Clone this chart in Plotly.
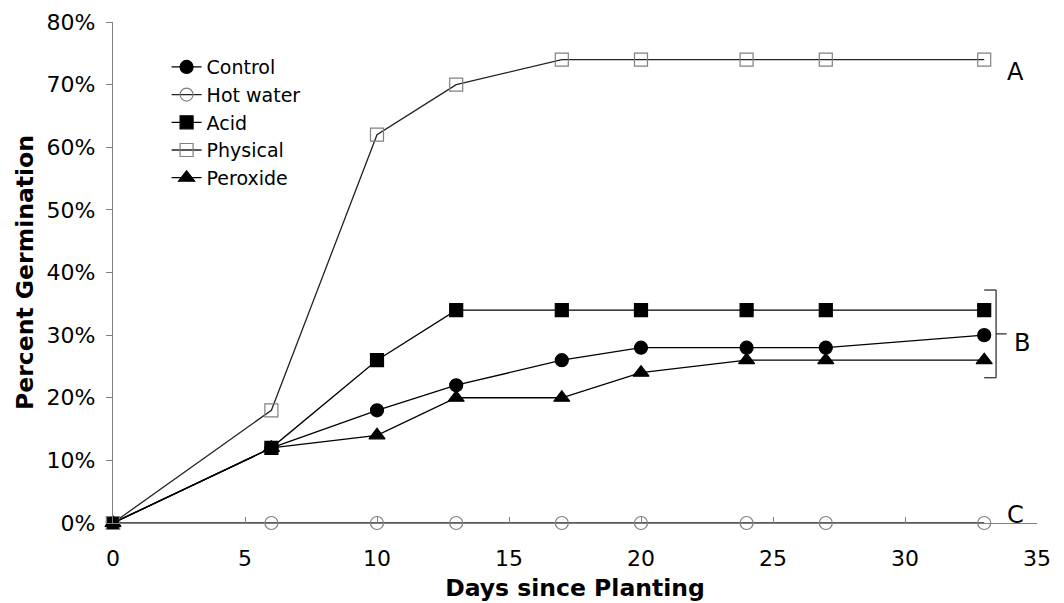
import plotly.graph_objects as go

days = [0, 6, 10, 13, 17, 20, 24, 27, 33]
control = [0, 12, 18, 22, 26, 28, 28, 28, 30]
hot_water = [0, 0, 0, 0, 0, 0, 0, 0, 0]
acid = [0, 12, 26, 34, 34, 34, 34, 34, 34]
physical = [0, 18, 62, 70, 74, 74, 74, 74, 74]
peroxide = [0, 12, 14, 20, 20, 24, 26, 26, 26]

x_ticks = [0, 5, 10, 15, 20, 25, 30, 35]
y_ticks = [0, 10, 20, 30, 40, 50, 60, 70, 80]
y_tick_labels = [f"{v}%" for v in y_ticks]

FONT = "DejaVu Sans"

series = [
    ("Control", control, "circle", "black", "black", 13),
    ("Hot water", hot_water, "circle-open", "#222222", "#808080", 13),
    ("Acid", acid, "square", "black", "black", 13),
    ("Physical", physical, "square-open", "#222222", "#808080", 13),
    ("Peroxide", peroxide, "triangle-up", "black", "black", 14),
]

fig = go.Figure()
for name, vals, sym, lc, mc, size in series:
    fig.add_trace(go.Scatter(
        x=days, y=vals, name=name, mode="lines+markers",
        line=dict(color=lc, width=1.3),
        marker=dict(symbol=sym, size=size, color=mc,
                    line=dict(color=mc, width=1.2)),
        cliponaxis=False,
    ))

# Bracket for group B
last = days[-1]
b_top = acid[-1] + 3.2
b_bot = peroxide[-1] - 2.8
bx = last + 0.45
shape_line = dict(color="#333333", width=1.3)
fig.add_shape(type="line", x0=bx, x1=bx, y0=b_bot, y1=b_top, line=shape_line)
fig.add_shape(type="line", x0=last, x1=bx, y0=b_top, y1=b_top, line=shape_line)
fig.add_shape(type="line", x0=last, x1=bx, y0=b_bot, y1=b_bot, line=shape_line)
fig.add_shape(type="line", x0=bx, x1=bx + 0.4, y0=(b_top + b_bot) / 2, y1=(b_top + b_bot) / 2, line=shape_line)

for txt, xv, yv in [("A", last + 1.2, physical[-1] - 2), ("B", bx + 1.0, (b_top + b_bot) / 2 - 1.5), ("C", last + 1.2, hot_water[-1] + 1.3)]:
    fig.add_annotation(x=xv, y=yv, text=txt, showarrow=False,
                       font=dict(family=FONT, size=24, color="black"),
                       xanchor="center", yanchor="middle")

# The page body has an 8px default margin; margins compensate for it.
fig.update_layout(
    width=1064, height=603,
    margin=dict(l=105, r=35, t=14, b=88),
    paper_bgcolor="white", plot_bgcolor="white",
    font=dict(family=FONT, size=22, color="black"),
    showlegend=True,
    legend=dict(x=0.058, y=0.948, xanchor="left", yanchor="top",
                bgcolor="rgba(0,0,0,0)", font=dict(family=FONT, size=19),
                itemwidth=30, tracegroupgap=0),
    xaxis=dict(range=[0, 35], tickvals=x_ticks, ticks="inside", ticklen=6,
               tickcolor="#808080", showline=True, linecolor="#808080", linewidth=1.2,
               showgrid=False, zeroline=False, automargin=False, ticklabelstandoff=15,
               title=dict(text="<b>Days since Planting</b>", font=dict(family=FONT, size=23.5), standoff=10),
               tickfont=dict(family=FONT, size=22)),
    yaxis=dict(range=[0, 80], tickvals=y_ticks, ticktext=y_tick_labels, ticks="outside", ticklen=6,
               tickcolor="#808080", showline=True, linecolor="#808080", linewidth=1.2,
               showgrid=False, zeroline=False, automargin=False, ticklabelstandoff=6,
               title=dict(text="<b>Percent Germination</b>", font=dict(family=FONT, size=23.5), standoff=6),
               tickfont=dict(family=FONT, size=22)),
)

fig.write_html("out.html")
